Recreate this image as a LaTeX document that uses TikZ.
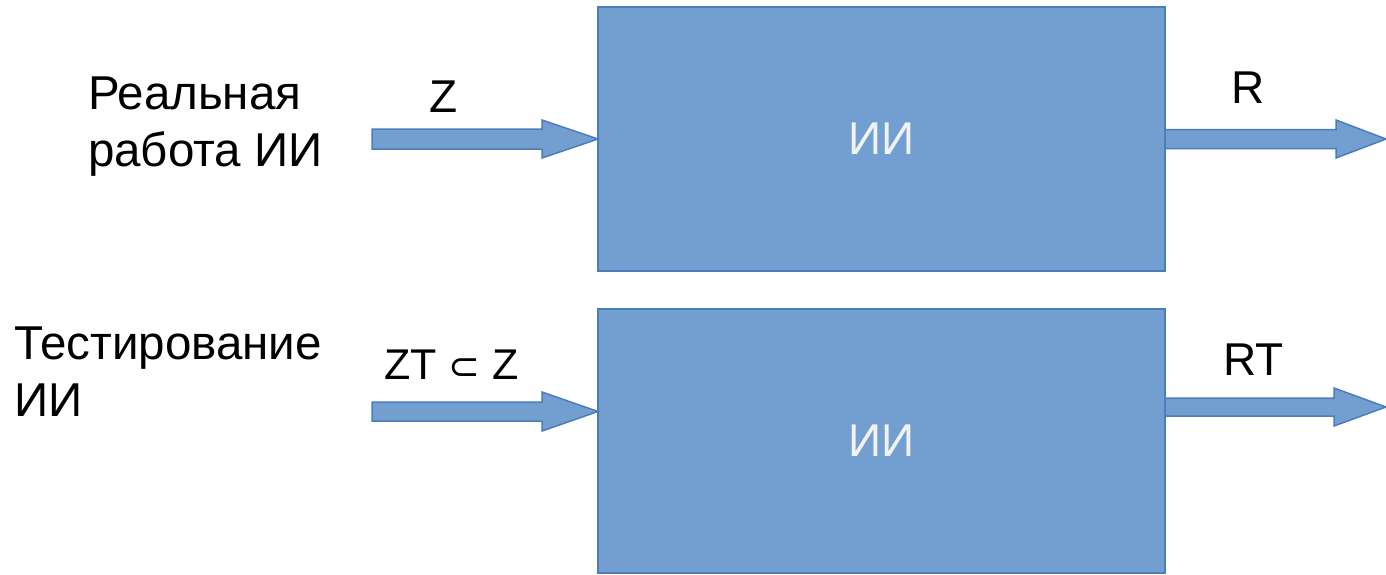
\documentclass[tikz,border=0pt]{standalone}
\usepackage{fontspec}
\setmainfont{Liberation Sans}
\newfontfamily\symfont{DejaVu Sans}
\definecolor{boxfill}{RGB}{114,159,207}
\definecolor{boxline}{RGB}{74,126,187}
\definecolor{boxtext}{RGB}{242,242,242}
\newcommand\blockarrow[6]{% x0, xhead, xtip, ycenter, half shaft, half head
  \filldraw[arrowshape] (#1,#4-#5) -- (#2,#4-#5) -- (#2,#4-#6) -- (#3,#4)
    -- (#2,#4+#6) -- (#2,#4+#5) -- (#1,#4+#5) -- cycle;}
\begin{document}
\begin{tikzpicture}[x=1pt,y=-1pt,
  box/.style={draw=boxline, fill=boxfill, line width=1.5pt, minimum width=567pt,
    minimum height=264pt, inner sep=0pt, outer sep=0pt, text=boxtext,
    font=\fontsize{46}{57}\selectfont},
  arrowshape/.style={draw=boxline, fill=boxfill, line width=1.5pt, line join=miter},
  lbl/.style={inner sep=0pt, outer sep=0pt, anchor=base west, align=left,
    font=\fontsize{47.5}{57}\selectfont}]
\useasboundingbox (0,0) rectangle (1386,574);
\node[box] (ai1) at (881.5,139) {ИИ};
\node[box] (ai2) at (881.5,441) {ИИ};
\coordinate (in1) at (372,139);
\coordinate (out1) at (1386,139);
\coordinate (in2) at (372,411.5);
\coordinate (out2) at (1386,407);
\blockarrow{372}{542}{598}{139}{10}{19}
\blockarrow{1165}{1336}{1386}{139}{9.5}{19}
\blockarrow{372}{542}{598}{411.5}{9.5}{19.5}
\blockarrow{1165}{1334}{1386}{407}{9}{19}
\node[lbl] (real) at (88,166) {Реальная\\работа ИИ};
\node[lbl] (test) at (14,416) {Тестирование\\ИИ};
\node[lbl, font=\fontsize{46}{57}\selectfont] (z) at (429,112) {Z};
\node[lbl, font=\fontsize{43}{57}\selectfont] (zt) at (384,379)
  {ZT {\symfont\fontsize{38}{38}\selectfont ⊂} Z};
\node[lbl, font=\fontsize{46}{57}\selectfont] (r) at (1231,103) {R};
\node[lbl, font=\fontsize{46}{57}\selectfont] (rt) at (1223,375) {RT};
\end{tikzpicture}
\end{document}
